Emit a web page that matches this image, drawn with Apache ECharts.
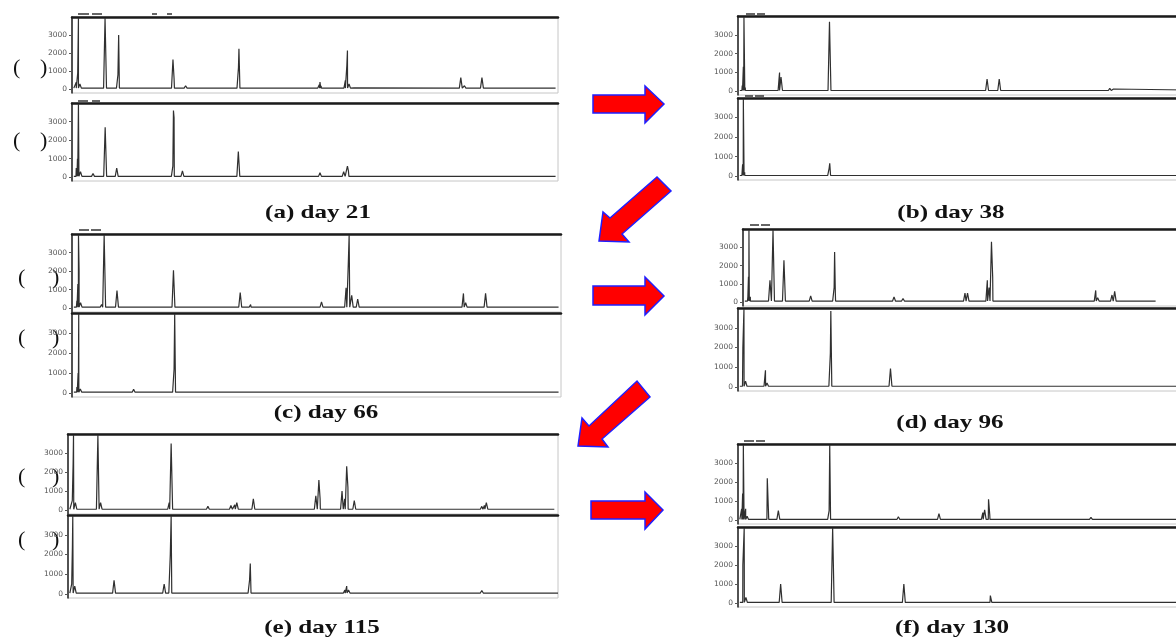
<!DOCTYPE html>
<html>
<head>
<meta charset="utf-8">
<title>Chromatograms day 21 - day 130</title>
<script src="https://cdn.jsdelivr.net/npm/echarts@6/dist/echarts.min.js"></script>
<style>
  html, body { margin: 0; padding: 0; background: #fff; overflow: hidden; }
  /* the right-hand traces run past the page edge, as in the source figure */
  #chart { width: 1240px; height: 637px; }
</style>
</head>
<body>
<div id="chart"></div>
<script>
// peaks: [retention time (min), height]
const day21Upper = [
  [0.35, 400], [0.47, 900], [0.53, 3950], [0.65, 300],
  [2.72, 3950],
  [3.78, 800], [3.84, 3000],
  [5.5, 60], [5.7, 60],
  [8.31, 1650], [8.4, 600],
  [9.35, 200],
  [13.7, 1200], [13.74, 2250],
  [20.35, 250], [20.41, 400], [20.5, 200],
  [22.5, 500], [22.62, 1300], [22.67, 2150], [22.8, 300],
  [23.2, 80],
  [32.0, 650], [32.3, 200],
  [33.74, 650],
]
const day21Lower = [
  [0.35, 500], [0.45, 1000], [0.53, 3950], [0.7, 300],
  [1.73, 200],
  [2.73, 2700],
  [3.68, 500],
  [4.28, 50],
  [8.3, 600], [8.35, 3600], [8.4, 3200],
  [9.09, 350],
  [13.69, 1380],
  [14.71, 40],
  [20.41, 250],
  [22.36, 300], [22.67, 600], [22.75, 350],
  [33.83, 60],
]
const day38Upper = [
  [0.35, 300], [0.44, 1300], [0.49, 3950], [0.6, 200],
  [3.42, 1000], [3.54, 750],
  [7.0, 100],
  [7.53, 3700],
  [8.39, 30],
  [12.39, 100],
  [16.0, 120],
  [18.4, 100],
  [20.5, 650],
  [21.5, 650],
  [30.6, 150], [30.9, 120],
]
const day38Lower = [
  [0.38, 600], [0.44, 3950], [0.55, 200],
  [7.5, 400], [7.55, 650],
  [12.39, 20],
  [29.2, 20],
]
const day66Upper = [
  [0.4, 400], [0.48, 1300], [0.53, 3950], [0.58, 2000], [0.7, 300],
  [2.42, 200],
  [2.63, 3950],
  [3.68, 950],
  [5.73, 100], [6.2, 120],
  [8.3, 2050], [8.35, 2000],
  [13.76, 850],
  [14.61, 200], [14.77, 100],
  [19.59, 80],
  [20.41, 350],
  [21.54, 150],
  [22.42, 1100], [22.6, 2400], [22.67, 3950], [22.88, 700],
  [23.37, 500],
  [24.85, 60],
  [32.02, 800], [32.2, 300],
  [33.83, 800],
]
const day66Lower = [
  [0.4, 300], [0.5, 1000], [0.55, 3950], [0.68, 200],
  [1.63, 40], [2.42, 30],
  [5.04, 180],
  [8.35, 1200], [8.4, 3950],
  [13.76, 40],
  [14.8, 120],
  [22.57, 50],
]
const day96Upper = [
  [0.4, 300], [0.45, 1400], [0.49, 3950], [0.6, 300],
  [2.22, 1200],
  [2.47, 3950],
  [3.37, 2300],
  [5.57, 350],
  [7.5, 800], [7.54, 2750], [7.6, 500],
  [10.26, 100],
  [12.43, 300], [13.17, 200],
  [16.05, 100], [16.67, 60],
  [18.27, 500], [18.48, 500],
  [19.34, 60],
  [20.11, 1200], [20.25, 800], [20.45, 3300], [20.55, 1400],
  [27.4, 80],
  [29.03, 650], [29.19, 250],
  [30.37, 400], [30.59, 600],
]
const day96Lower = [
  [0.4, 2000], [0.49, 3950], [0.62, 300],
  [2.26, 850], [2.39, 200],
  [7.6, 1700], [7.64, 3850],
  [12.55, 930],
  [18.65, 100],
  [20.39, 80], [20.62, 60],
  [24.2, 40],
]
const day115Upper = [
  [0.35, 500], [0.42, 2500], [0.45, 3950], [0.6, 400],
  [2.44, 3950], [2.66, 400],
  [8.26, 400], [8.42, 3500],
  [11.42, 200],
  [13.3, 250], [13.61, 280], [13.78, 400],
  [14.72, 100], [15.13, 600],
  [18.5, 40],
  [20.23, 750], [20.48, 1580], [20.58, 600],
  [22.37, 1000], [22.59, 600], [22.75, 2300], [22.85, 1200],
  [23.37, 500],
  [29.52, 40], [30.56, 50], [32.45, 50],
  [33.78, 200], [33.99, 250], [34.15, 400],
]
const day115Lower = [
  [0.3, 500], [0.36, 2400], [0.39, 3950], [0.55, 400],
  [3.76, 700],
  [7.85, 500],
  [8.35, 2000], [8.42, 3950],
  [14.82, 700], [14.88, 1550],
  [15.25, 50],
  [22.6, 200], [22.75, 400], [22.9, 200],
  [33.78, 180],
]
const day130Upper = [
  [0.3, 600], [0.38, 1400], [0.44, 3950], [0.63, 600], [0.75, 200],
  [2.26, 80], [2.41, 2200],
  [3.32, 500],
  [5.62, 60],
  [7.0, 120],
  [7.5, 500], [7.55, 3950],
  [12.33, 100], [13.2, 180],
  [16.54, 350],
  [18.52, 60],
  [20.15, 400], [20.3, 550], [20.62, 1100], [20.72, 300],
  [29.05, 150],
  [30.7, 120],
]
const day130Lower = [
  [0.4, 2000], [0.51, 3950], [0.65, 300],
  [2.32, 60],
  [3.51, 1000],
  [7.26, 80],
  [7.79, 3950],
  [13.65, 1000],
  [20.62, 100], [20.77, 400],
  [30.78, 60],
]

const runs = [day21Upper, day21Lower, day38Upper, day38Lower, day66Upper, day66Lower,
  day96Upper, day96Lower, day115Upper, day115Lower, day130Upper, day130Lower]
const baselines = [70, 50, 40, 30, 60, 40, 70, 40, 50, 50, 40, 40]
const runEnds = [39.8, 39.8, 40, 40, 39.8, 39.8, 33.96, 40, 39.7, 40, 40, 40]
const yTicks = [0, 1000, 2000, 3000]
const captions = ['(a) day 21', '(b) day 38', '(c) day 66', '(d) day 96', '(e) day 115', '(f) day 130']

// [left, top, width, height] of each trace box
const boxes = [
  [72, 17, 486, 76], [72, 103, 486, 78],
  [738, 16, 486, 79], [738, 98, 486, 82],
  [72, 234, 489, 78], [72, 313, 489, 84],
  [743, 229, 486, 77], [738, 308, 486, 83],
  [68, 434, 490, 80], [68, 515, 490, 83],
  [738, 444, 486, 80], [738, 527, 486, 80],
]
const captionPos = [[318, 213], [951, 213], [326, 413], [950, 423], [322, 628], [952, 628]]

const PEAK_HALF = 0.12

function buildTrace(peaks, base, end) {
  const pts = []
  peaks.forEach(([t, h]) => {
    pts.push([t - PEAK_HALF, base], [t, h], [t + PEAK_HALF, base])
  })
  pts.sort((a, b) => a[0] - b[0])
  return [[0.15, base], ...pts, [end, base]]
}

const grid = boxes.map(([left, top, width, height]) => ({
  left, top, width, height,
  show: true, borderColor: '#c6c6c6', borderWidth: 1, backgroundColor: 'transparent',
}))

const xAxis = []
boxes.forEach((b, i) => {
  xAxis.push({ gridIndex: i, type: 'value', min: 0, max: 40, show: false })
})
boxes.forEach((b, i) => {
  xAxis.push({
    gridIndex: i, type: 'value', min: 0, max: 40, position: 'top',
    axisLine: { show: true, lineStyle: { color: '#1b1b1b', width: 2.5 } },
    axisTick: { show: false }, axisLabel: { show: false }, splitLine: { show: false },
  })
})

const yAxis = boxes.map((b, i) => ({
  gridIndex: i, type: 'value', min: -200, max: 4000,
  axisLine: { show: true, lineStyle: { color: '#222', width: 1.5 } },
  axisTick: { show: true, length: 3, customValues: yTicks, lineStyle: { color: '#555' } },
  axisLabel: {
    customValues: yTicks, fontSize: 7.5, color: '#555', margin: 5, fontFamily: 'DejaVu Sans',
    formatter: (v) => String(v),
  },
  splitLine: { show: false },
}))

const series = runs.map((peaks, i) => ({
  type: 'line',
  xAxisIndex: i,
  yAxisIndex: i,
  showSymbol: false,
  lineStyle: { color: '#303030', width: 1.2 },
  data: buildTrace(peaks, baselines[i], runEnds[i]),
}))

// red arrows between the panels
const arrowStyle = { fill: '#ff0000', stroke: '#1f1fff', lineWidth: 1.5 }
const arrows = [
  [[593, 95], [645, 95], [645, 86], [664, 104], [645, 123], [645, 113], [593, 113]],
  [[599, 241], [603, 212], [610, 218], [657, 177], [671, 191], [622, 234], [629, 242]],
  [[593, 286], [645, 286], [645, 277], [664, 296], [645, 315], [645, 305], [593, 305]],
  [[578, 446], [582, 418], [589, 426], [637, 381], [650, 397], [602, 439], [608, 447]],
  [[591, 501], [645, 501], [645, 492], [663, 510], [645, 529], [645, 519], [591, 519]],
]

const graphic = []
arrows.forEach((points) => {
  graphic.push({ type: 'polygon', shape: { points }, style: arrowStyle })
})
// the source figure is stretched sideways, so the captions are too
captions.forEach((text, i) => {
  graphic.push({
    type: 'text', x: captionPos[i][0], y: captionPos[i][1], scaleX: 1.32,
    style: { text, fill: '#111', font: 'bold 19px "Liberation Serif"', align: 'center', verticalAlign: 'middle' },
  })
})
// "( )" marks left of the day 21 / 66 / 115 traces
const parens = [[13, 40, 68], [13, 40, 141], [18, 52, 278], [18, 52, 338], [18, 52, 477], [18, 52, 540]]
parens.forEach(([xl, xr, y]) => {
  ;[[xl, '('], [xr, ')']].forEach(([x, ch]) => {
    graphic.push({
      type: 'text', x, y,
      style: { text: ch, fill: '#111', font: '22px "Liberation Serif"', verticalAlign: 'middle' },
    })
  })
})
// small marks above the boxes
const marks = [
  [78, 89, 14], [92, 102, 14], [152, 157, 14], [167, 172, 14],
  [78, 88, 101], [92, 100, 101],
  [746, 755, 14], [757, 765, 14], [745, 753, 96], [755, 764, 96],
  [79, 89, 230], [91, 101, 230],
  [750, 759, 225], [761, 770, 225],
  [744, 754, 441], [756, 765, 441],
]
marks.forEach(([x1, x2, y]) => {
  graphic.push({ type: 'line', shape: { x1, y1: y, x2, y2: y }, style: { stroke: '#333', lineWidth: 1.5 } })
})

const chart = echarts.init(document.getElementById('chart'))
chart.setOption({
  animation: false,
  backgroundColor: '#fff',
  grid,
  xAxis,
  yAxis,
  series,
  graphic,
})
</script>
</body>
</html>
